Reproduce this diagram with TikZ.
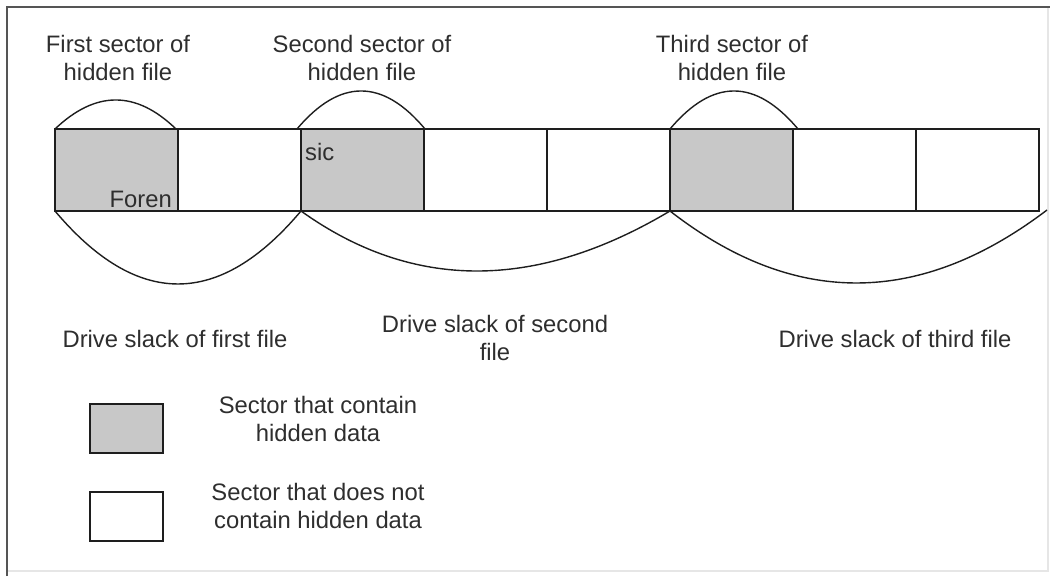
\documentclass[tikz,border=0pt]{standalone}
\usepackage{fontspec}
\setmainfont{Liberation Sans}
\definecolor{txt}{HTML}{2E2E2E}
\definecolor{ln}{HTML}{1E1E1E}
\definecolor{fillg}{HTML}{C8C8C8}
\definecolor{frameD}{HTML}{555555}
\definecolor{frameL}{HTML}{E6E6E6}
\begin{document}
\begin{tikzpicture}[x=1pt,y=-1pt,
  sector/.style={draw=ln, line width=1.6pt, minimum width=123pt, minimum height=82pt,
    inner sep=0pt, outer sep=0pt, anchor=north west},
  hid/.style={sector, fill=fillg},
  legbox/.style={draw=ln, line width=1.6pt, minimum width=73pt, minimum height=49pt,
    inner sep=0pt, outer sep=0pt, anchor=north west},
  lbl/.style={text=txt, font=\fontsize{23.8}{28.5}\selectfont, align=center, inner sep=0pt, anchor=north},
  intext/.style={text=txt, font=\fontsize{23.8}{28.5}\selectfont, inner sep=0pt},
  arcline/.style={draw=ln, line width=1.4pt}]
\useasboundingbox (0,0) rectangle (1050,576);
% frame
\draw[frameL, line width=1.2pt] (1048,7) -- (1048,571) -- (7,571);
\draw[frameD, line width=1.6pt] (7,576) -- (7,7) -- (1050,7);
% sectors
\node[hid]    (s1) at (55,129) {};
\node[sector] (s2) at (178,129) {};
\node[hid]    (s3) at (301,129) {};
\node[sector] (s4) at (424,129) {};
\node[sector] (s5) at (547,129) {};
\node[hid]    (s6) at (670,129) {};
\node[sector] (s7) at (793,129) {};
\node[sector] (s8) at (916,129) {};
% text inside sectors
\node[intext, anchor=base east] (foren) at (172,207) {Foren};
\node[intext, anchor=base west] (sic) at (305,160) {sic};
% top arcs
\draw[arcline] (s1.north west) .. controls (95.7,90.3) and (136,90.3) .. ([xshift=-2pt]s1.north east);
\draw[arcline] ([xshift=-4pt]s3.north west) .. controls (339.7,78.3) and (382.7,78.3) .. ([xshift=1pt]s3.north east);
\draw[arcline] (s6.north west) .. controls (712.7,78.3) and (755.3,78.3) .. ([xshift=5pt]s6.north east);
% bottom arcs
\coordinate (endc) at (1047,210);
\draw[arcline] (s1.south west) .. controls (137,308.3) and (219,308.3) .. (s3.south west);
\draw[arcline] (s3.south west) .. controls (412.7,291) and (535.7,291) .. (s6.south west);
\draw[arcline] (s6.south west) .. controls (793.7,307.3) and (919.3,307) .. (endc);
% labels
\node[lbl] (l1) at (118,35) {First sector of\\hidden file};
\node[lbl] (l2) at (362,35) {Second sector of\\hidden file};
\node[lbl] (l3) at (732,35) {Third sector of\\hidden file};
\node[lbl] (d1) at (175,330) {Drive slack of first file};
\node[lbl] (d2) at (495,315) {Drive slack of second\\file};
\node[lbl] (d3) at (895,330) {Drive slack of third file};
% legend
\node[legbox, fill=fillg] (g1) at (90,404) {};
\node[legbox] (g2) at (90,492) {};
\node[lbl] (t1) at (318,396) {Sector that contain\\hidden data};
\node[lbl] (t2) at (318,483) {Sector that does not\\contain hidden data};
\end{tikzpicture}
\end{document}
